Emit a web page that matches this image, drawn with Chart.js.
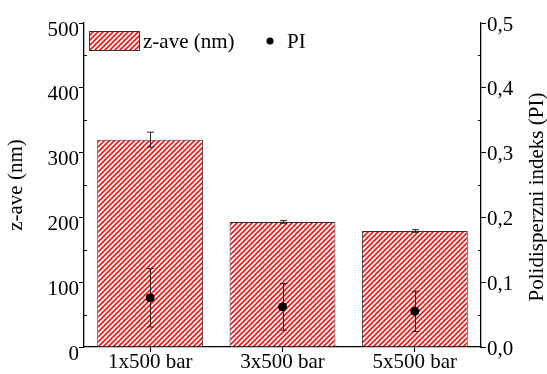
<!DOCTYPE html>
<html>
<head>
<meta charset="utf-8">
<script src="https://cdn.jsdelivr.net/npm/chart.js@4/dist/chart.umd.min.js"></script>
<style>
  html, body { margin: 0; padding: 0; background: #fff; }
  #wrap { width: 547px; height: 374px; }
</style>
</head>
<body>
<div id="wrap"><canvas id="chart" width="547" height="374"></canvas></div>
<script>
// data
const categories = ['1x500 bar', '3x500 bar', '5x500 bar'];
const zave       = [320, 193, 179];
const zaveErr    = [11.5, 2, 2];
const pi         = [0.076, 0.062, 0.055];
const piErr      = [0.045, 0.036, 0.031];

const FONT = "'Liberation Serif', 'Times New Roman', serif";
const FS = 21;

// red "///" hatch
function hatch() {
  const s = 5;
  const c = document.createElement('canvas');
  c.width = s; c.height = s;
  const g = c.getContext('2d');
  g.fillStyle = '#fff';
  g.fillRect(0, 0, s, s);
  g.strokeStyle = '#ff1010';
  g.lineWidth = 1.6;
  g.beginPath();
  g.moveTo(-1, s + 1); g.lineTo(s + 1, -1);
  g.moveTo(-2, 2); g.lineTo(2, -2);
  g.moveTo(s - 2, s + 2); g.lineTo(s + 2, s - 2);
  g.stroke();
  return g.createPattern(c, 'repeat');
}
const HATCH = hatch();

// error bars, minor ticks, legend, axis titles
const extras = {
  id: 'extras',
  afterDatasetsDraw(chart) {
    const ctx = chart.ctx;
    const x = chart.scales.x, y = chart.scales.y, y1 = chart.scales.y1;
    ctx.save();
    ctx.strokeStyle = '#222';
    ctx.lineWidth = 1;
    const bar = (cx, lo, hi) => {
      ctx.beginPath();
      ctx.moveTo(cx, lo); ctx.lineTo(cx, hi);
      ctx.moveTo(cx - 3.5, lo); ctx.lineTo(cx + 3.5, lo);
      ctx.moveTo(cx - 3.5, hi); ctx.lineTo(cx + 3.5, hi);
      ctx.stroke();
    };
    categories.forEach((c, i) => {
      const cx = Math.round(x.getPixelForValue(i)) + 0.5;
      bar(cx, y.getPixelForValue(zave[i] - zaveErr[i]), y.getPixelForValue(zave[i] + zaveErr[i]));
      bar(cx, y1.getPixelForValue(pi[i] - piErr[i]), y1.getPixelForValue(pi[i] + piErr[i]));
    });
    // points on top of their error bars
    categories.forEach((c, i) => {
      ctx.fillStyle = '#000';
      ctx.beginPath();
      ctx.arc(x.getPixelForValue(i), y1.getPixelForValue(pi[i]), 4, 0, Math.PI * 2);
      ctx.fill();
    });

    // minor ticks (inward)
    ctx.strokeStyle = '#000';
    for (let v = 50; v < 500; v += 100) {
      const py = Math.round(y.getPixelForValue(v)) + 0.5;
      ctx.beginPath();
      ctx.moveTo(y.right, py); ctx.lineTo(y.right + 3, py);
      ctx.stroke();
    }
    for (let v = 0.05; v < 0.5; v += 0.1) {
      const py = Math.round(y1.getPixelForValue(v)) + 0.5;
      ctx.beginPath();
      ctx.moveTo(y1.left, py); ctx.lineTo(y1.left - 3, py);
      ctx.stroke();
    }

    // legend
    const lx = 89, ly = 31;
    ctx.fillStyle = HATCH;
    ctx.fillRect(lx, ly, 50, 19);
    ctx.strokeStyle = '#333';
    ctx.strokeRect(lx + 0.5, ly + 0.5, 50, 19);
    ctx.fillStyle = '#000';
    ctx.font = FS + 'px ' + FONT;
    ctx.textBaseline = 'middle';
    ctx.textAlign = 'left';
    ctx.fillText('z-ave (nm)', 143, 42);
    ctx.beginPath();
    ctx.arc(270, 41, 3.5, 0, Math.PI * 2);
    ctx.fill();
    ctx.fillText('PI', 287, 42);

    // axis titles, both read bottom to top
    ctx.textAlign = 'center';
    const midY = (chart.chartArea.top + chart.chartArea.bottom) / 2;
    ctx.save();
    ctx.translate(16, midY);
    ctx.rotate(-Math.PI / 2);
    ctx.fillText('z-ave (nm)', 0, 0);
    ctx.restore();
    ctx.save();
    ctx.translate(537, 197);
    ctx.rotate(-Math.PI / 2);
    ctx.fillText('Polidisperzni indeks (PI)', 0, 0);
    ctx.restore();
    ctx.restore();
  }
};

new Chart(document.getElementById('chart'), {
  data: {
    labels: categories,
    datasets: [
      {
        type: 'bar',
        label: 'z-ave (nm)',
        data: zave,
        yAxisID: 'y',
        backgroundColor: HATCH,
        borderColor: '#333',
        borderWidth: 1,
        categoryPercentage: 0.8,
        barPercentage: 1.0,
        order: 2
      },
      {
        type: 'line',
        label: 'PI',
        data: pi,
        yAxisID: 'y1',
        showLine: false,
        pointRadius: 4,
        pointBackgroundColor: '#000',
        pointBorderColor: '#000',
        order: 1
      }
    ]
  },
  options: {
    responsive: false,
    animation: false,
    layout: { padding: { top: 23, right: 0, left: 0, bottom: 0 } },
    plugins: { legend: { display: false }, tooltip: { enabled: false } },
    scales: {
      x: {
        offset: true,
        afterFit(s) { s.height = 27; },
        grid: { offset: false, drawOnChartArea: false, tickLength: 5, color: '#000' },
        border: { color: '#000', width: 1.3 },
        ticks: { color: '#000', font: { family: FONT, size: FS }, padding: -2, maxRotation: 0 }
      },
      y: {
        position: 'left',
        min: 0, max: 500,
        afterFit(s) { s.width = 84; },
        grid: { drawOnChartArea: false, tickLength: 5, color: '#000' },
        border: { color: '#000', width: 1.3 },
        ticks: { stepSize: 100, color: '#000', font: { family: FONT, size: FS }, padding: 0, labelOffset: 7 }
      },
      y1: {
        position: 'right',
        min: 0, max: 0.5,
        afterFit(s) { s.width = 66; },
        grid: { drawOnChartArea: false, tickLength: 5, color: '#000' },
        border: { color: '#000', width: 1.3 },
        ticks: {
          stepSize: 0.1, color: '#000', font: { family: FONT, size: FS }, padding: 1, labelOffset: 2,
          callback: v => v.toFixed(1).replace('.', ',')
        }
      }
    }
  },
  plugins: [extras]
});
</script>
</body>
</html>
